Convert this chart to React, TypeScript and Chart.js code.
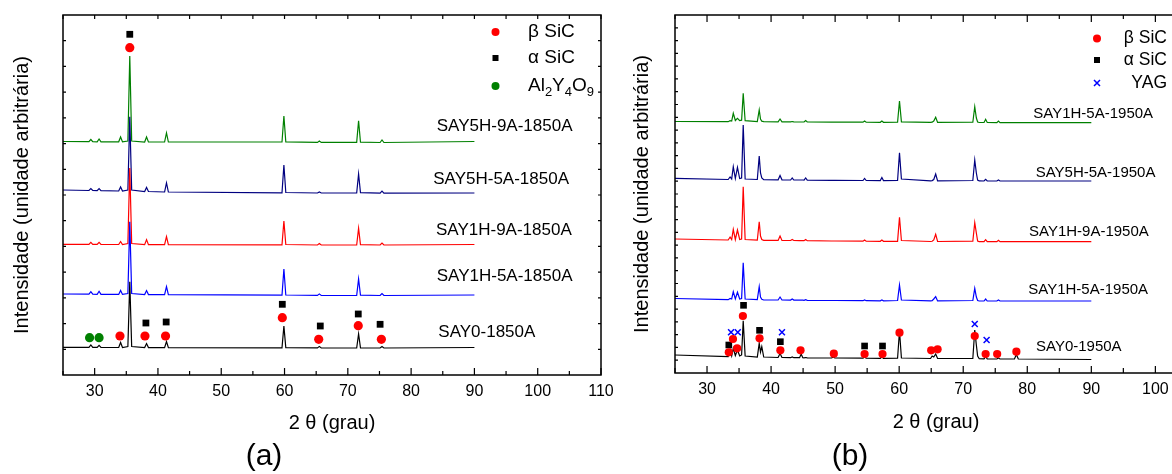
import React, { useEffect, useRef } from 'react';
import { Chart, registerables } from 'chart.js';

Chart.register(...registerables);

const FONT = "'Liberation Sans', Arial, Helvetica, sans-serif";

// ---------- Panel (a): 1850 °C ----------
const twoThetaA = [25, 29.1, 29.4, 29.7, 30.4, 30.7, 31.0, 33.8, 34.1, 34.4, 35.25, 35.55, 35.85, 37.9, 38.2, 38.5, 41.05, 41.35, 41.65, 59.6, 59.9, 60.2, 65.2, 65.5, 65.8, 71.4, 71.7, 72.0, 75.1, 75.4, 75.7, 90];
const say5h9a1850 = [233.5, 233.3, 235.5, 233.3, 233.2, 236, 233.2, 233.2, 238, 233.1, 234, 319, 234, 233, 238, 233, 233, 242, 233, 233, 259, 233.2, 232.6, 234, 232.6, 232.6, 254.3, 232.8, 232.5, 235, 232.5, 233.5];
const say5h5a1850 = [185, 184.5, 186.5, 184.5, 184.3, 186.3, 184.3, 184, 188, 184, 185, 258.3, 185, 183.5, 187.5, 183.5, 183, 192, 183, 182.2, 210, 182.5, 182, 183, 182, 182, 201, 182.3, 181.8, 183.8, 181.8, 182];
const say1h9a1850 = [130.7, 130.6, 132.6, 130.6, 130.6, 132.6, 130.6, 130.5, 133.5, 130.5, 131.5, 207, 131.5, 130.4, 135.4, 130.4, 130.3, 138.3, 130.3, 130.2, 154, 130.5, 130, 131.5, 130, 130, 146.7, 130.3, 130, 132, 130, 130.5];
const say1h5a1850 = [81, 80.8, 83.3, 80.8, 80.7, 83.7, 80.7, 80.6, 84.6, 80.6, 81.5, 153.3, 81.5, 80.4, 84.4, 80.4, 80.3, 88.3, 80.3, 79.8, 106, 80, 79.6, 81.1, 79.6, 79.5, 96, 79.8, 79.5, 81.5, 79.5, 80];
const say0_1850 = [27.7, 27.6, 30.1, 27.6, 27.6, 29.6, 27.6, 27.5, 32.5, 27.5, 28.5, 93.3, 28.5, 27.4, 31.4, 27.4, 27.4, 33.4, 27.4, 27.2, 49, 27.4, 27.1, 28.6, 27.1, 27, 41, 27.2, 27, 28.5, 27, 27.5];

const betaA_x = [35.55, 34.0, 37.95, 41.2, 59.65, 65.4, 71.65, 75.3];
const betaA_y = [327.3, 39, 39, 39, 57.3, 35.7, 49.3, 35.7];
const alphaA_x = [35.55, 38.1, 41.3, 59.65, 65.65, 71.65, 75.1];
const alphaA_y = [340.7, 52, 53, 70.7, 49, 61, 50.7];
const al2y4o9A_x = [29.2, 30.7];
const al2y4o9A_y = [37.3, 37.3];

const labelsA = ['SAY5H-9A-1850A', 'SAY5H-5A-1850A', 'SAY1H-9A-1850A', 'SAY1H-5A-1850A', 'SAY0-1850A'];
const labelA_x = [84.05, 83.5, 83.93, 84.05, 84.3];
const labelA_y = [248.3, 196, 145, 98.3, 42.7];

// ---------- Panel (b): 1950 °C ----------
const twoThetaB = [25, 33.3, 33.6, 33.85, 34.1, 34.42, 34.75, 35.1, 35.4, 35.65, 35.95, 37.85, 38.15, 38.35, 38.55, 38.85, 41.1, 41.4, 41.7, 43.05, 43.3, 43.55, 44.45, 44.7, 44.95, 45.15, 45.4, 45.65, 49.45, 49.7, 49.95, 54.35, 54.6, 54.85, 57.05, 57.3, 57.55, 59.75, 60.05, 60.35, 64.9, 65.15, 65.4, 65.7, 66.0, 71.5, 71.8, 72.05, 72.25, 72.5, 73.25, 73.5, 73.75, 75.25, 75.5, 75.75, 78.0, 78.3, 78.6, 90];
const say1h5a1950top = [251.5, 251.3, 252.3, 252, 259.7, 252.5, 254.7, 252.3, 252.8, 279.7, 252.3, 251.5, 263, 254, 251.8, 251.3, 251.2, 254, 251.2, 251.1, 251.5, 251.1, 251, 251, 251, 251, 252.5, 251, 250.8, 250.8, 250.8, 250.8, 252, 250.8, 250.7, 252, 250.7, 250.8, 272, 251.2, 250.6, 250.8, 252, 255.7, 250.6, 250.8, 266.3, 255, 251, 250.5, 250.5, 253.7, 250.5, 250.4, 252, 250.4, 250.3, 250.3, 250.3, 250.3];
const say5h5a1950 = [194.7, 193.5, 196, 194, 206.3, 194.5, 205.7, 194.5, 195, 248, 194, 193.5, 217, 200, 195, 193.3, 193.2, 197.5, 193.2, 193, 195, 193, 193, 193, 193, 192.9, 195, 192.9, 192.7, 192.7, 192.7, 192.5, 194.5, 192.5, 192.4, 195.5, 192.4, 192.5, 220.3, 194, 192.2, 192.4, 193.5, 199, 192.2, 192.5, 213, 200, 193, 192.1, 192, 193.6, 192, 192, 193, 192, 192, 192, 192, 192];
const say1h9a1950 = [134, 133, 136, 133.5, 143.7, 133.5, 143, 133.5, 134, 186.3, 133.5, 132.8, 151.3, 137, 133.5, 132.7, 132.6, 137, 132.6, 132.5, 133.5, 132.5, 132.4, 132.4, 132.4, 132.3, 133.5, 132.3, 132, 132, 132, 131.8, 133, 131.8, 131.7, 133, 131.7, 131.7, 155.7, 132.5, 131.5, 131.7, 133, 138.7, 131.5, 131.8, 150.3, 140, 132, 131.4, 131.4, 133.4, 131.4, 131.3, 132.8, 131.3, 131.3, 131.3, 131.3, 131.3];
const say1h5a1950 = [74.5, 73.3, 74.5, 74, 81.3, 74, 80.7, 74, 74.5, 110.3, 74, 73.3, 86.3, 76, 73.8, 73, 73, 76, 73, 72.9, 74, 72.9, 72.8, 72.8, 72.8, 72.7, 73.3, 72.7, 72.5, 72.5, 72.5, 72.3, 73, 72.3, 72.2, 73, 72.2, 72.5, 88, 73, 72.1, 72.3, 74, 76.3, 72.1, 72.5, 84.7, 76, 72.5, 72, 72, 74, 72, 72, 73, 72, 72, 72, 72, 72];
const say0_1950 = [18, 16.3, 23, 17, 24.7, 17.5, 23, 17, 18, 52.3, 17, 16, 29.7, 21, 26.3, 16, 15.5, 19.5, 15.5, 15.3, 16, 15.3, 15.3, 19, 15.3, 15.2, 15.5, 15.2, 15, 16, 15, 14.8, 16, 14.8, 14.7, 16, 14.7, 14.8, 42, 15, 14.5, 17, 16, 19, 14.5, 14.5, 43, 28, 17, 14.3, 14.2, 16.3, 14.2, 14, 15, 14, 14, 18.5, 14, 13.5];

const betaB_x = [33.4, 34.05, 34.7, 35.6, 38.2, 41.45, 44.6, 49.8, 54.6, 57.4, 60.05, 65.0, 66.0, 71.8, 73.5, 75.3, 78.3];
const betaB_y = [20.7, 34, 24.7, 57, 34.7, 22.7, 22.7, 19.3, 19, 19, 40.3, 22.7, 23.7, 37, 19, 19, 21.3];
const alphaB_x = [33.4, 35.7, 38.2, 41.45, 54.6, 57.4];
const alphaB_y = [28, 67.7, 42.7, 31.3, 27, 27];
const yagB_x = [33.75, 34.8, 41.7, 71.8, 73.65];
const yagB_y = [40.7, 40.7, 40.7, 49, 33];

const labelsB = ['SAY1H-5A-1950A', 'SAY5H-5A-1950A', 'SAY1H-9A-1950A', 'SAY1H-5A-1950A', 'SAY0-1950A'];
const labelB_x = [80.94, 81.31, 80.27, 80.16, 81.36];
const labelB_y = [258.7, 199.7, 141.3, 83, 25.7];

const xTickStep = 5;
const xLabelStep = 10;

// ---------- helpers ----------
const pts = (xs: number[], ys: number[]) => xs.map((x, i) => ({ x, y: ys[i] }));

const lineDs = (label: string, xs: number[], ys: number[], color: string, order: number) => ({
  type: 'line' as const,
  label,
  data: pts(xs, ys),
  borderColor: color,
  backgroundColor: color,
  borderWidth: 1.2,
  pointRadius: 0,
  tension: 0,
  fill: false,
  order,
});

const markerDs = (label: string, xs: number[], ys: number[], color: string, style: string, radius: number) => ({
  type: 'scatter' as const,
  label,
  data: pts(xs, ys),
  pointStyle: style,
  pointRadius: radius,
  pointHoverRadius: radius,
  backgroundColor: color,
  borderColor: color,
  borderWidth: style === 'crossRot' ? 1.5 : 0,
  order: 0,
});

const frameTicks = {
  id: 'frameTicks',
  afterDraw(chart: any, _args: any, opts: any) {
    const { ctx, chartArea: a, scales } = chart;
    const xs = scales.x;
    ctx.save();
    ctx.strokeStyle = '#000';
    ctx.lineWidth = 1.5;
    ctx.strokeRect(a.left, a.top, a.right - a.left, a.bottom - a.top);
    ctx.lineWidth = 1.2;
    ctx.beginPath();
    for (let v = xs.min; v <= xs.max + 1e-6; v += xTickStep) {
      const px = xs.getPixelForValue(v);
      const major = Math.abs(v % xLabelStep) < 1e-6;
      const lb = major ? opts.bottomMajor : opts.bottomMinor;
      const lt = major ? opts.topMajor : opts.topMinor;
      ctx.moveTo(px, a.bottom);
      ctx.lineTo(px, a.bottom - lb);
      ctx.moveTo(px, a.top);
      ctx.lineTo(px, a.top + lt);
    }
    const n = opts.yDivisions;
    for (let k = 1; k < n; k++) {
      const py = a.bottom - ((a.bottom - a.top) * k) / n;
      ctx.moveTo(a.left, py);
      ctx.lineTo(a.left + opts.yTick, py);
      ctx.moveTo(a.right, py);
      ctx.lineTo(a.right - opts.yTick, py);
    }
    ctx.stroke();
    ctx.restore();
  },
};

const drawMarker = (ctx: CanvasRenderingContext2D, style: string, x: number, y: number, size: number, color: string) => {
  ctx.fillStyle = color;
  ctx.strokeStyle = color;
  if (style === 'circle') {
    ctx.beginPath();
    ctx.arc(x, y, size, 0, Math.PI * 2);
    ctx.fill();
  } else if (style === 'rect') {
    ctx.fillRect(x - size, y - size, size * 2, size * 2);
  } else {
    ctx.lineWidth = 1.5;
    ctx.beginPath();
    ctx.moveTo(x - size, y - size);
    ctx.lineTo(x + size, y + size);
    ctx.moveTo(x - size, y + size);
    ctx.lineTo(x + size, y - size);
    ctx.stroke();
  }
};

const annotations = {
  id: 'annotations',
  afterDraw(chart: any, _args: any, opts: any) {
    const { ctx, scales } = chart;
    ctx.save();
    ctx.textBaseline = 'middle';
    ctx.fillStyle = '#000';
    ctx.textAlign = 'left';
    ctx.font = `${opts.seriesFont}px ${FONT}`;
    opts.seriesText.forEach((t: string, i: number) => {
      ctx.fillStyle = '#000';
      ctx.fillText(t, scales.x.getPixelForValue(opts.seriesX[i]), scales.y.getPixelForValue(opts.seriesY[i]));
    });
    // legend
    const lg = opts.legend;
    lg.items.forEach((it: any, i: number) => {
      const y = lg.rows[i];
      drawMarker(ctx, it.style, lg.markerX, y, it.size, it.color);
      const big = `${lg.font}px ${FONT}`;
      const small = `${Math.round(lg.font * 0.7)}px ${FONT}`;
      let w = 0;
      it.parts.forEach((p: any) => {
        ctx.font = p.sub ? small : big;
        w += ctx.measureText(p.t).width;
      });
      let x = lg.align === 'right' ? lg.textX - w : lg.textX;
      ctx.fillStyle = '#000';
      ctx.textAlign = 'left';
      it.parts.forEach((p: any) => {
        ctx.font = p.sub ? small : big;
        ctx.fillText(p.t, x, p.sub ? y + 6 : y);
        x += ctx.measureText(p.t).width;
      });
    });
    // panel label
    ctx.font = `${opts.panelFont}px ${FONT}`;
    ctx.textAlign = 'center';
    ctx.fillStyle = '#000';
    ctx.fillText(opts.panel, opts.panelX, opts.panelY);
    ctx.restore();
  },
};

const baseOptions = (xMax: number, yMax: number, yAxisWidth: number, xAxisHeight: number, padRight: number, yTitlePad: number, xTitlePad: number) => ({
  responsive: false,
  animation: false as const,
  events: [] as any[],
  layout: { padding: { left: 0, top: 15, right: padRight, bottom: 0 }, autoPadding: false },
  plugins: { legend: { display: false }, tooltip: { enabled: false } },
  scales: {
    x: {
      type: 'linear' as const,
      min: 25,
      max: xMax,
      grid: { display: false, drawTicks: false },
      border: { display: false },
      ticks: {
        stepSize: xTickStep,
        autoSkip: false,
        maxRotation: 0,
        padding: 7,
        color: '#000',
        font: { family: FONT, size: 16 },
        callback: (v: any) => (Math.abs(Number(v) % xLabelStep) < 1e-6 ? String(v) : ''),
      },
      title: { display: true, text: '2 θ (grau)', color: '#000', font: { family: FONT, size: 20 }, padding: { top: 0, bottom: xTitlePad } },
      afterFit: (s: any) => { s.height = xAxisHeight; },
    },
    y: {
      type: 'linear' as const,
      min: 0,
      max: yMax,
      grid: { display: false, drawTicks: false },
      border: { display: false },
      ticks: { display: false },
      title: { display: true, text: 'Intensidade (unidade arbitrária)', color: '#000', font: { family: FONT, size: 20 }, padding: { top: yTitlePad, bottom: 0 } },
      afterFit: (s: any) => { s.width = yAxisWidth; },
    },
  },
});

function buildLeft(): any {
  const opts: any = baseOptions(110, 360, 63, 99, 39, 10, 39);
  opts.plugins.frameTicks = { bottomMajor: 7, bottomMinor: 4, topMajor: 4, topMinor: 4, yDivisions: 14, yTick: 3 };
  opts.plugins.annotations = {
    seriesText: labelsA, seriesX: labelA_x, seriesY: labelA_y, seriesFont: 17,
    legend: {
      markerX: 495.5, textX: 528, align: 'left', font: 19, rows: [32, 58, 86],
      items: [
        { style: 'circle', size: 4, color: '#ff0000', parts: [{ t: 'β SiC' }] },
        { style: 'rect', size: 3, color: '#000000', parts: [{ t: 'α SiC' }] },
        { style: 'circle', size: 4, color: '#008000', parts: [{ t: 'Al' }, { t: '2', sub: true }, { t: 'Y' }, { t: '4', sub: true }, { t: 'O' }, { t: '9', sub: true }] },
      ],
    },
    panel: '(a)', panelX: 264, panelY: 457, panelFont: 30,
  };
  return {
    type: 'line',
    data: {
      datasets: [
        markerDs('β SiC', betaA_x, betaA_y, '#ff0000', 'circle', 4.6),
        markerDs('α SiC', alphaA_x, alphaA_y, '#000000', 'rect', 4.8),
        markerDs('Al2Y4O9', al2y4o9A_x, al2y4o9A_y, '#008000', 'circle', 4.6),
        lineDs('SAY0-1850A', twoThetaA, say0_1850, '#000000', 1),
        lineDs('SAY1H-5A-1850A', twoThetaA, say1h5a1850, '#0000ff', 2),
        lineDs('SAY1H-9A-1850A', twoThetaA, say1h9a1850, '#ff0000', 3),
        lineDs('SAY5H-5A-1850A', twoThetaA, say5h5a1850, '#000080', 4),
        lineDs('SAY5H-9A-1850A', twoThetaA, say5h9a1850, '#008000', 5),
      ],
    },
    options: opts,
    plugins: [frameTicks, annotations],
  };
}

function buildRight(): any {
  const opts: any = baseOptions(106.5, 358, 65, 101, 33, 20, 40);
  opts.plugins.frameTicks = { bottomMajor: 7, bottomMinor: 5, topMajor: 7, topMinor: 4, yDivisions: 28, yTick: 3 };
  opts.plugins.annotations = {
    seriesText: labelsB, seriesX: labelB_x, seriesY: labelB_y, seriesFont: 15,
    legend: {
      markerX: 487, textX: 557, align: 'right', font: 17.5, rows: [38.5, 60, 83],
      items: [
        { style: 'circle', size: 4, color: '#ff0000', parts: [{ t: 'β SiC' }] },
        { style: 'rect', size: 3, color: '#000000', parts: [{ t: 'α SiC' }] },
        { style: 'cross', size: 3, color: '#0000ff', parts: [{ t: 'YAG' }] },
      ],
    },
    panel: '(b)', panelX: 240, panelY: 457, panelFont: 30,
  };
  return {
    type: 'line',
    data: {
      datasets: [
        markerDs('β SiC', betaB_x, betaB_y, '#ff0000', 'circle', 4.1),
        markerDs('α SiC', alphaB_x, alphaB_y, '#000000', 'rect', 4.7),
        markerDs('YAG', yagB_x, yagB_y, '#0000ff', 'crossRot', 4.2),
        lineDs('SAY0-1950A', twoThetaB, say0_1950, '#000000', 1),
        lineDs('SAY1H-5A-1950A', twoThetaB, say1h5a1950, '#0000ff', 2),
        lineDs('SAY1H-9A-1950A', twoThetaB, say1h9a1950, '#ff0000', 3),
        lineDs('SAY5H-5A-1950A', twoThetaB, say5h5a1950, '#000080', 4),
        lineDs('SAY1H-5A-1950A (top)', twoThetaB, say1h5a1950top, '#008000', 5),
      ],
    },
    options: opts,
    plugins: [frameTicks, annotations],
  };
}

export default function App() {
  const leftRef = useRef<HTMLCanvasElement>(null);
  const rightRef = useRef<HTMLCanvasElement>(null);
  useEffect(() => {
    const c1 = new Chart(leftRef.current as HTMLCanvasElement, buildLeft());
    const c2 = new Chart(rightRef.current as HTMLCanvasElement, buildRight());
    return () => {
      c1.destroy();
      c2.destroy();
    };
  }, []);
  return (
    <div style={{ position: 'fixed', left: 0, top: 0, width: 1172, height: 474, overflow: 'hidden', background: '#fff' }}>
      <canvas ref={leftRef} width={640} height={474} style={{ position: 'absolute', left: 0, top: 0, width: 640, height: 474 }} />
      <canvas ref={rightRef} width={620} height={474} style={{ position: 'absolute', left: 610, top: 0, width: 620, height: 474 }} />
    </div>
  );
}
